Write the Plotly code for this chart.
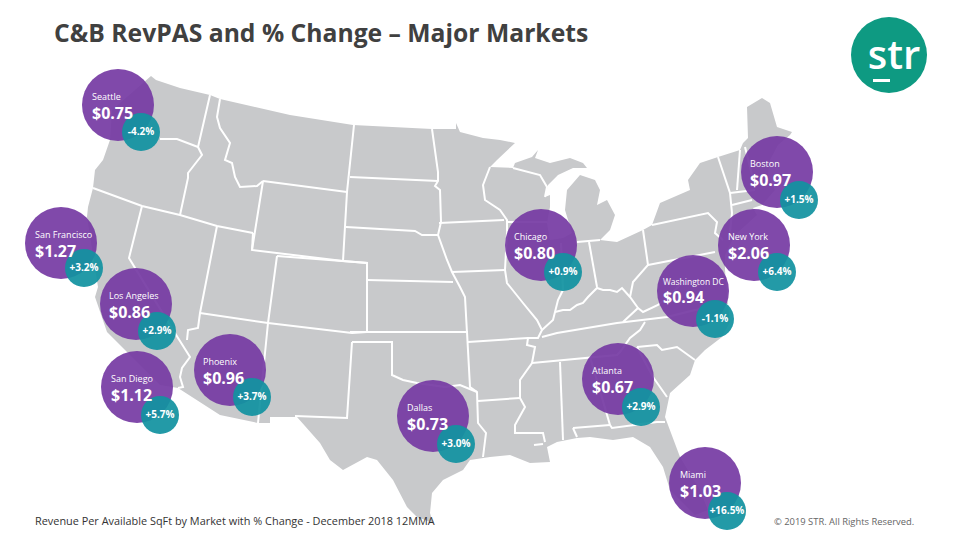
import plotly.graph_objects as go

# Market data
cities = ["Seattle", "San Francisco", "Los Angeles", "San Diego", "Phoenix", "Dallas", "Chicago",
          "Atlanta", "Miami", "Washington DC", "New York", "Boston"]
revpas = ["$0.75", "$1.27", "$0.86", "$1.12", "$0.96", "$0.73", "$0.80", "$0.67", "$1.03", "$0.94", "$2.06", "$0.97"]
changes = ["-4.2%", "+3.2%", "+2.9%", "+5.7%", "+3.7%", "+3.0%", "+0.9%", "+2.9%", "+16.5%", "-1.1%", "+6.4%", "+1.5%"]
city_x = [118, 61, 136, 137, 230, 433, 541, 618, 705, 693, 754, 777]
city_y = [105, 243, 304, 387, 370, 416, 245, 379, 483, 291, 245, 172]
chg_x = [141, 84, 157, 160, 252, 456, 563, 641, 727, 715, 777, 799]
chg_y = [132, 268, 331, 415, 397, 444, 272, 407, 511, 319, 272, 200]
label_x = [92, 35, 109, 111, 203, 407, 514, 592, 680, 663, 728, 750]
name_y = [98, 236, 297, 380, 363, 409, 238, 372, 476, 283, 238, 165]
value_y = [115, 253, 314, 397, 380, 426, 255, 389, 493, 299, 255, 182]
name_sizes = [9, 9, 9, 9, 9, 9, 9, 9, 9, 8.5, 9, 9]

# Map geometry, on the picture's plane
outline = [(151,76),(156,80),(180,88),(210,95),(220,99),(290,115),(353,125),(432,129),(456,129),(456,123),(460,132),
    (483,138),(500,140),(515,143),(497,160),(490,167),(513,168),(515,163),(532,157),(538,150),(535,158),(550,163),
    (570,158),(583,163),(587,168),(573,168),(558,175),(548,185),(545,197),(550,195),(550,207),(547,223),(550,240),
    (563,238),(572,233),(565,210),(567,190),(580,175),(595,180),(600,190),(597,205),(607,200),(615,215),(610,230),
    (600,240),(617,242),(643,230),(652,225),(660,203),(690,190),(688,180),(700,163),(718,157),(740,150),(743,143),
    (748,138),(747,107),(762,98),(770,103),(777,127),(792,132),(790,135),(778,145),(770,160),(768,175),(775,190),
    (762,205),(753,208),(757,215),(735,235),(725,255),(725,270),(728,305),(730,322),(722,337),(705,350),(695,360),
    (690,375),(670,393),(665,417),(680,457),(700,490),(708,510),(695,515),(670,490),(663,467),(650,447),(633,437),
    (613,440),(590,437),(577,438),(557,442),(547,447),(550,462),(530,463),(510,455),(490,457),(470,460),(463,470),
    (443,480),(432,493),(430,513),(433,523),(417,517),(407,507),(393,480),(377,460),(367,457),(343,470),(330,460),
    (320,443),(297,417),(270,417),(270,423),(258,423),(220,415),(178,388),(160,385),(107,332),(95,297),(98,287),
    (87,217),(88,207),(93,188),(95,170),(103,160),(110,140),(112,110)]

borders = [
    [(160,139),(177,139),(198,147)],
    [(210,95),(198,147),(202,155),(188,173),(188,178),(180,215)],
    [(220,99),(217,117),(220,128),(230,143),(225,160),(232,163),(235,177),(240,187),(257,186),(263,181)],
    [(263,181),(347,192)],
    [(263,181),(252,250),(343,261)],
    [(354,125),(347,192),(343,261)],
    [(350,177),(438,181)],
    [(432,129),(438,172),(438,181),(435,186),(440,190),(441,222),(438,235)],
    [(346,227),(415,231),(422,235),(438,235),(447,260),(452,272),(460,287),(465,297),(467,333)],
    [(343,261),(367,263),(367,332)],
    [(367,280),(453,282)],
    [(439,223),(504,220)],
    [(490,167),(483,185),(485,200),(500,210),(507,220),(507,233),(505,270),(507,283),(523,303),(537,320),(542,330),(538,338),(528,338),(468,342)],
    [(513,168),(540,175),(547,187),(545,197)],
    [(507,222),(547,222)],
    [(452,272),(505,270)],
    [(350,332),(467,332),(470,387),(477,392),(478,423),(486,433),(483,457)],
    [(352,342),(392,342),(392,375),(403,380),(417,383),(445,387),(460,385),(477,392)],
    [(528,338),(527,345),(535,347),(532,363),(520,380),(520,398),(525,407),(515,425),(515,433),(543,433),(545,442)],
    [(478,401),(520,398)],
    [(532,363),(617,355),(620,352),(630,338),(640,330),(645,322)],
    [(560,362),(563,440)],
    [(542,337),(557,333),(617,323),(667,317),(695,310),(728,305)],
    [(590,357),(610,425),(612,428),(657,422),(665,422)],
    [(573,428),(610,425)],
    [(573,428),(577,437)],
    [(637,347),(657,345),(662,350),(677,347),(695,360)],
    [(637,347),(653,377),(667,397)],
    [(561,243),(563,290),(558,300),(555,313),(553,320),(542,330)],
    [(555,312),(563,310),(570,310),(577,305),(583,303),(588,297),(597,288),(603,290),(610,290),(617,292),(622,288),(630,297),(638,308),(623,322)],
    [(577,242),(600,240)],
    [(589,242),(597,287)],
    [(643,230),(648,265),(633,282),(630,297)],
    [(638,308),(643,312),(658,305),(670,295),(680,285),(690,282)],
    [(648,265),(715,252)],
    [(652,225),(708,213),(717,222),(715,233),(723,240)],
    [(718,157),(730,193),(732,213),(730,232)],
    [(740,150),(737,190)],
    [(730,193),(755,190)],
    [(732,205),(752,200)],
    [(745,147),(752,175)],
    [(93,188),(142,206),(180,215),(217,226),(253,233)],
    [(142,206),(129,258),(173,330),(190,357),(182,368),(180,377),(183,387),(178,388)],
    [(217,226),(200,313),(198,328),(188,330),(187,340)],
    [(253,233),(252,250)],
    [(277,256),(268,323),(258,423)],
    [(200,313),(268,323),(352,333),(367,332)],
    [(277,256),(368,263)],
    [(352,342),(347,418),(295,416)],
    [(534,445),(543,444)],
]

border_x, border_y = [], []
for seg in borders:
    border_x += [p[0] for p in seg] + [None]
    border_y += [p[1] for p in seg] + [None]

FONT = "Open Sans"
fig = go.Figure()
fig.add_trace(go.Scatter(x=[p[0] for p in outline], y=[p[1] for p in outline], mode="lines",
                         fill="toself", fillcolor="#c8c9cb", line=dict(width=0, color="#c8c9cb"), hoverinfo="skip"))
fig.add_trace(go.Scatter(x=border_x, y=border_y, mode="lines", line=dict(color="white", width=2), hoverinfo="skip"))
fig.add_trace(go.Scatter(x=city_x, y=city_y, mode="markers",
                         marker=dict(size=72, color="rgba(117,58,163,0.92)", line=dict(width=0))))
fig.add_trace(go.Scatter(x=chg_x, y=chg_y, mode="markers+text", text=changes, textposition="middle center",
                         textfont=dict(family=FONT, size=10, color="white", weight="bold"),
                         marker=dict(size=38, color="rgba(18,146,160,0.93)", line=dict(width=0))))
fig.add_trace(go.Scatter(x=label_x, y=name_y, mode="text", text=cities,
                         textposition="middle right", textfont=dict(family=FONT, size=name_sizes, color="white")))
fig.add_trace(go.Scatter(x=label_x, y=value_y, mode="text", text=revpas,
                         textposition="middle right", textfont=dict(family=FONT, size=16, color="white", weight="bold")))
# logo
fig.add_trace(go.Scatter(x=[889], y=[55], mode="markers",
                         marker=dict(size=76, color="#0e9a82", line=dict(width=0))))
fig.add_trace(go.Scatter(x=[894], y=[59], mode="text", text=["str"], textposition="middle center",
                         textfont=dict(family=FONT, size=40, color="white", weight=600)))
fig.add_shape(type="rect", x0=873, x1=890, y0=79, y1=82, fillcolor="white", line_width=0)

fig.add_annotation(x=52, y=32, text="<b>C&B RevPAS and % Change – Major Markets</b>", showarrow=False, xanchor="left",
                   font=dict(family=FONT, size=24.7, color="#404040"))
fig.add_annotation(x=33, y=520, text="Revenue Per Available SqFt by Market with % Change - December 2018 12MMA",
                   showarrow=False, xanchor="left", font=dict(family=FONT, size=10.9, color="#333333"))
fig.add_annotation(x=772, y=521, text="© 2019 STR. All Rights Reserved.", showarrow=False, xanchor="left",
                   font=dict(family=FONT, size=9.4, color="#666666"))

fig.update_layout(width=960, height=540, margin=dict(l=0, r=0, t=0, b=0), showlegend=False,
                  paper_bgcolor="white", plot_bgcolor="white",
                  xaxis=dict(range=[0, 960], visible=False, fixedrange=True),
                  yaxis=dict(range=[540, 0], visible=False, fixedrange=True))
fig.write_html("out.html", config={"displayModeBar": False},
               post_script="document.body.style.margin='0';document.body.style.overflow='hidden';")
